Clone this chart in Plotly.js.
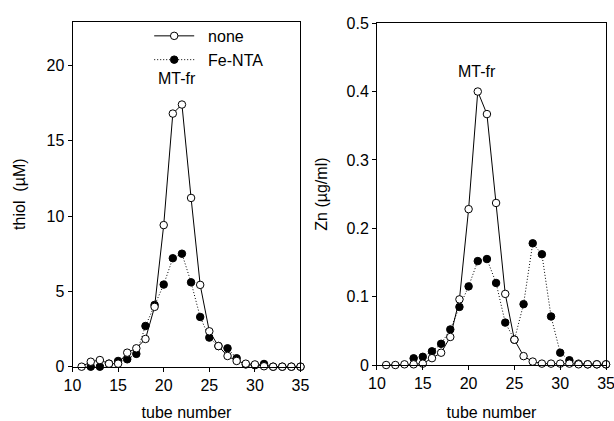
<!DOCTYPE html>
<html>
<head>
<meta charset="utf-8">
<script src="https://cdn.plot.ly/plotly-3.0.1.min.js"></script>
<style>html,body{margin:0;padding:0;background:#fff;}#chart{width:614px;height:421px;}</style>
</head>
<body>
<div id="chart"></div>
<script>
// Data
const tubes = [11,12,13,14,15,16,17,18,19,20,21,22,23,24,25,26,27,28,29,30,31,32,33,34,35];
const thiolNone = [0,0.33,0.44,0.2,0.2,0.93,1.22,1.84,3.97,9.4,16.8,17.4,11.2,5.43,2.35,1.37,0.71,0.38,0.2,0.15,0.03,0,0,0,0];
const thiolFe = [null,0,0,0.2,0.38,0.49,0.85,2.7,4.1,5.45,7.2,7.5,5.6,3.3,1.93,1.37,1.22,0.56,0.15,0.1,0.18,0,0,0,0];
const znNone = [0,0,0.001,0.001,0.002,0.01,0.018,0.041,0.096,0.228,0.400,0.367,0.237,0.104,0.037,0.013,0.005,0.002,0.002,0.002,0.002,0.001,0.001,0.001,0.001];
const znFe = [null,null,null,0.0098,0.012,0.020,0.031,0.052,0.085,0.115,0.152,0.155,0.12,0.062,0.037,0.089,0.178,0.162,0.071,0.018,0.007,0.002,0.001,0.001,0.001];
const seriesNames = ["none", "Fe-NTA"];
const xTitle = "tube number";
const yTitleLeft = "thiol\u00a0 (µM)";
const yTitleRight = "Zn (µg/ml)";
const peakLabel = "MT-fr";

const font = {family: "Liberation Sans, Arial, Helvetica, sans-serif", size: 16, color: "#000"};

const openMarker = {symbol: "circle", size: 7.5, color: "#fff", line: {color: "#000", width: 1}};
const filledMarker = {symbol: "circle", size: 7.5, color: "#000", line: {color: "#000", width: 1}};
const dotted = "1px,2px";

const traces = [
  {x: tubes, y: thiolFe, name: "\u00a0\u00a0" + seriesNames[1], mode: "lines+markers", xaxis: "x", yaxis: "y",
   line: {color: "#000", width: 1, dash: dotted}, marker: filledMarker, cliponaxis: false, legendrank: 2},
  {x: tubes, y: thiolNone, name: "\u00a0\u00a0" + seriesNames[0], mode: "lines+markers", xaxis: "x", yaxis: "y",
   line: {color: "#000", width: 1}, marker: openMarker, cliponaxis: false, legendrank: 1},
  {x: tubes, y: znFe, name: seriesNames[1], mode: "lines+markers", xaxis: "x2", yaxis: "y2", showlegend: false,
   line: {color: "#000", width: 1, dash: dotted}, marker: filledMarker, cliponaxis: false},
  {x: tubes, y: znNone, name: seriesNames[0], mode: "lines+markers", xaxis: "x2", yaxis: "y2", showlegend: false,
   line: {color: "#000", width: 1}, marker: openMarker, cliponaxis: false}
];

const axisCommon = {
  showline: true, mirror: true, linecolor: "#000", linewidth: 1,
  ticks: "outside", ticklen: 4, tickwidth: 1, tickcolor: "#000",
  showgrid: false, zeroline: false, tickfont: font, automargin: false,
  ticklabeloverflow: "allow"
};

const layout = {
  width: 614, height: 421,
  margin: {l: 0, r: 0, t: 0, b: 0},
  paper_bgcolor: "#fff", plot_bgcolor: "#fff",
  font: font,
  showlegend: true,
  legend: {x: 0.243, y: 0.955, xanchor: "left", yanchor: "top", bgcolor: "rgba(0,0,0,0)",
           font: font, itemwidth: 40, tracegroupgap: 0},
  xaxis: Object.assign({}, axisCommon, {domain: [0.1181, 0.4894], range: [10, 35], dtick: 5, tick0: 10,
          anchor: "y", title: {text: xTitle, font: font, standoff: 16}}),
  yaxis: Object.assign({}, axisCommon, {domain: [0.129, 0.9485], range: [0, 22.9], dtick: 5, tick0: 0,
          anchor: "x", title: {text: yTitleLeft, font: font, standoff: 16}}),
  xaxis2: Object.assign({}, axisCommon, {domain: [0.614, 0.987], range: [10, 35], dtick: 5, tick0: 10,
          anchor: "y2", title: {text: xTitle, font: font, standoff: 16}}),
  yaxis2: Object.assign({}, axisCommon, {domain: [0.133, 0.945], range: [0, 0.5], dtick: 0.1, tick0: 0,
          anchor: "x2", title: {text: yTitleRight, font: font, standoff: 14}}),
  annotations: [
    {xref: "x", yref: "y", x: 21.5, y: 19.1, text: peakLabel, showarrow: false, font: font},
    {xref: "x2", yref: "y2", x: 20.9, y: 0.43, text: peakLabel, showarrow: false, font: font}
  ]
};

Plotly.newPlot("chart", traces, layout, {staticPlot: true, displayModeBar: false});
</script>
</body>
</html>
